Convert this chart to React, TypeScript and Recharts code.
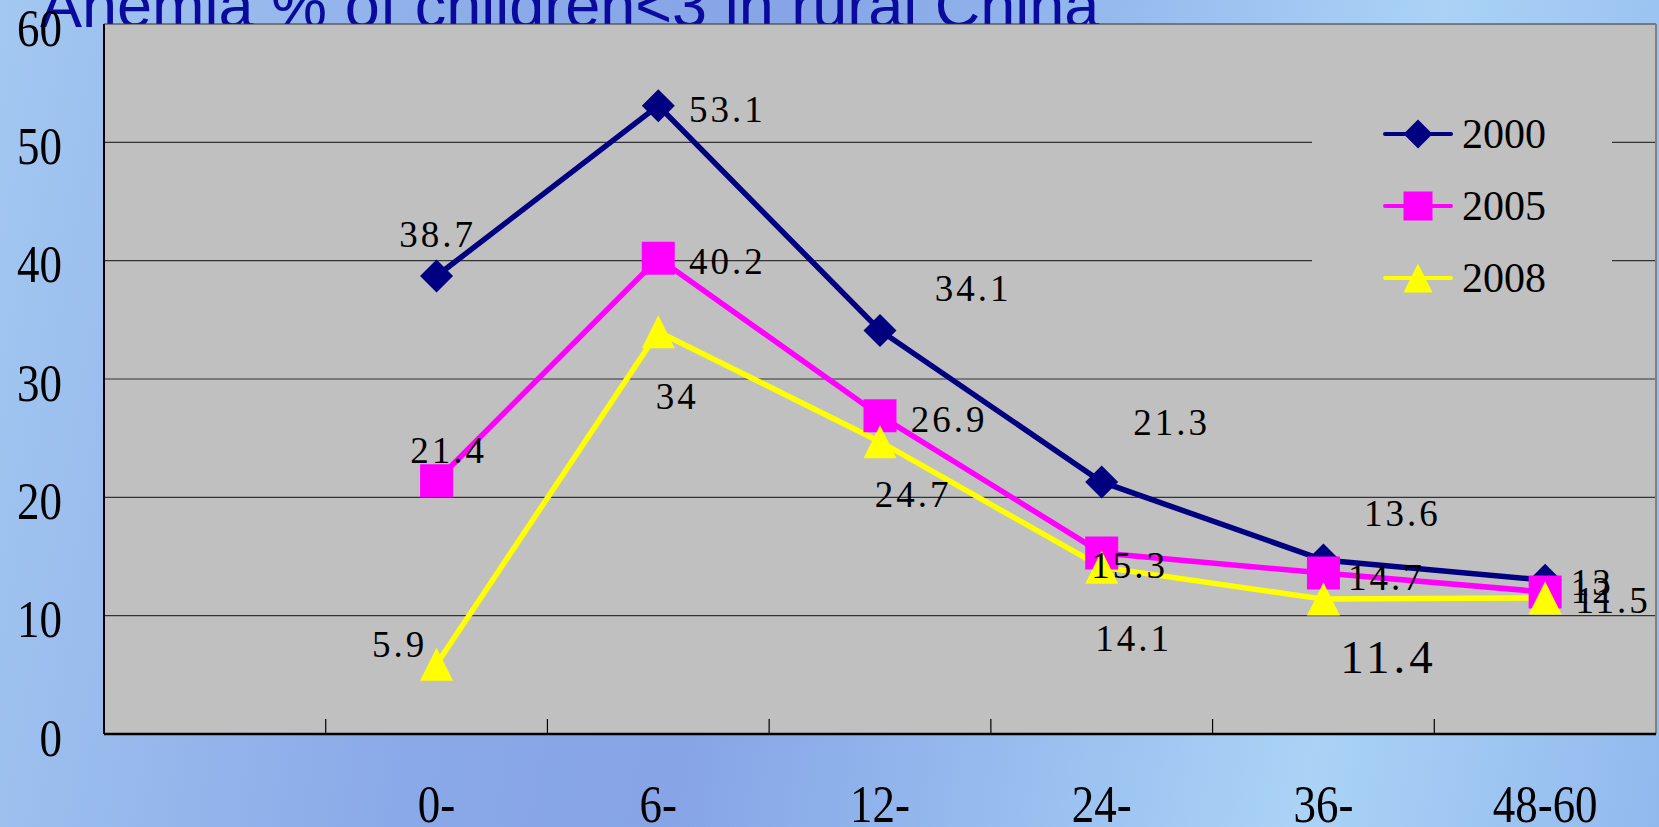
import React from 'react';
import { LineChart, Line, XAxis, YAxis, CartesianGrid, Legend, LabelList, ReferenceLine } from 'recharts';

const ageGroups = ['0-', '6-', '12-', '24-', '36-', '48-60'];
const anemia2000 = [38.7, 53.1, 34.1, 21.3, 14.7, 13];
const anemia2005 = [21.4, 40.2, 26.9, 15.3, 13.6, 12];
const anemia2008 = [5.9, 34, 24.7, 14.1, 11.4, 11.5];
const yTicks = [0, 10, 20, 30, 40, 50, 60];

// label offsets from each point, [dx, dy] in px (the labels were dragged around by hand in the original)
const nudge2000 = [[1, -42], [69, 4], [93, -42], [70, -59], [63, 17], [47, 2]];
const nudge2005 = [[12, -30], [69, 3], [69, 4], [28, 13], [79, -60], [47, -2]];
const nudge2008 = [[-37, -20], [19, 65], [33, 53], [32, 71], [65, 58], [68, 3]];

const W = 1659;
const H = 827;
const serif = '"Liberation Serif", "DejaVu Serif", serif';

// first slot on the axis is empty in the original, so groups sit at 1.5 .. 6.5
const rows = ageGroups.map((g, i) => ({
  pos: i + 1.5,
  group: g,
  y2000: anemia2000[i],
  y2005: anemia2005[i],
  y2008: anemia2008[i],
}));

const series = [
  { key: 'y2000', name: '2000', color: '#000080', shape: 'diamond', nudge: nudge2000 },
  { key: 'y2005', name: '2005', color: '#ff00ff', shape: 'square', nudge: nudge2005 },
  { key: 'y2008', name: '2008', color: '#ffff00', shape: 'triangle', nudge: nudge2008 },
];

function markerPath(shape: string, cx: number, cy: number, s: number) {
  const h = s / 2;
  if (shape === 'diamond') return `M${cx},${cy - h}L${cx + h},${cy}L${cx},${cy + h}L${cx - h},${cy}Z`;
  if (shape === 'square') return `M${cx - h},${cy - h}H${cx + h}V${cy + h}H${cx - h}Z`;
  return `M${cx},${cy - h}L${cx + h},${cy + h}L${cx - h},${cy + h}Z`;
}

const makeDot = (shape: string, color: string) => (props: any) => {
  const { cx, cy, index } = props;
  if (cx == null || cy == null) return <g key={`d-${index}`} />;
  return <path key={`d-${index}`} d={markerPath(shape, cx, cy, 33)} fill={color} stroke="none" />;
};

const makeLabel = (nudge: number[][], bigIndex: number) => (props: any) => {
  const { value, index } = props;
  const vb = props.viewBox || {};
  const x = vb.x ?? props.x;
  const y = vb.y ?? props.y;
  if (x == null || y == null || value == null) return null;
  const [dx, dy] = nudge[index] || [0, 0];
  const big = index === bigIndex;
  return (
    <text
      key={`l-${index}`}
      x={x + dx}
      y={y + dy}
      textAnchor="middle"
      dominantBaseline="central"
      fontFamily={serif}
      fontSize={big ? 47 : 37}
      letterSpacing={big ? 4 : 3}
      fill="#000"
    >
      {String(value)}
    </text>
  );
};

// axis text in the original is a tall, slightly stretched Song face
const XTick = (props: any) => {
  const { x, y, payload } = props;
  const i = Math.round(payload.value - 1.5);
  const by = y + 88;
  return (
    <text
      x={x}
      y={by}
      transform={`translate(0 ${by}) scale(1 1.15) translate(0 ${-by})`}
      textAnchor="middle"
      fontFamily={serif}
      fontSize={45}
      fill="#000"
    >
      {ageGroups[i]}
    </text>
  );
};

const YTick = (props: any) => {
  const { x, y, payload } = props;
  const cy = y + 4;
  return (
    <text
      x={x}
      y={cy}
      transform={`translate(0 ${cy}) scale(1 1.15) translate(0 ${-cy})`}
      textAnchor="end"
      dominantBaseline="central"
      fontFamily={serif}
      fontSize={45}
      fill="#000"
    >
      {payload.value}
    </text>
  );
};

// inward tick marks sit on the boundaries between groups, not under the points
const BoundaryTick = (props: any) => {
  const { x1, x2, y1, y2 } = props;
  if (x1 == null) return null;
  const bottom = Math.max(y1, y2);
  return <line x1={x1} x2={x2} y1={bottom} y2={bottom - 15} stroke="#000" strokeWidth={1.2} />;
};

const LegendBox = (props: any) => {
  const items = props.payload || [];
  return (
    <div style={{ width: '100%', height: '100%' }}>
      {items.map((it: any) => {
        const s = series.find((q) => q.key === it.dataKey) || series[0];
        return (
          <div key={s.key} style={{ height: 72, display: 'flex', alignItems: 'center', paddingLeft: 71 }}>
            <svg width={70} height={34}>
              <line x1={2} y1={17} x2={68} y2={17} stroke={s.color} strokeWidth={4} strokeLinecap="round" />
              <path d={markerPath(s.shape, 35, 17, 29)} fill={s.color} />
            </svg>
            <span style={{ marginLeft: 9, fontFamily: serif, fontSize: 42, color: '#000', lineHeight: 1 }}>{s.name}</span>
          </div>
        );
      })}
    </div>
  );
};

export default function App() {
  return (
    <div
      style={{
        position: 'absolute',
        left: 0,
        top: 0,
        width: W,
        height: H,
        overflow: 'hidden',
        background:
          'linear-gradient(100deg, #a3c8f1 0%, #8aa9e8 30%, #86a4e6 45%, #95bbee 62%, #aad3f6 80%, #92b9ee 100%)',
      }}
    >
      <svg width={W} height={H} style={{ position: 'absolute', left: 0, top: 0 }}>
        <text x={40} y={27} fontFamily='"Liberation Sans", Arial, sans-serif' fontSize={63} fill="#0a0a9e">
          Anemia % of children&lt;3 in rural China
        </text>
      </svg>
      <div style={{ position: 'absolute', left: 0, top: 0 }}>
        <LineChart width={W} height={H} data={rows} margin={{ top: 24, right: 3, bottom: 0, left: 0 }}>
          <CartesianGrid fill="#c0c0c0" vertical={false} stroke="#333" strokeWidth={1.2} />
          <XAxis
            xAxisId="main"
            dataKey="pos"
            type="number"
            domain={[0, 7]}
            ticks={rows.map((r) => r.pos)}
            height={93}
            tickLine={false}
            tickSize={0}
            tickMargin={0}
            axisLine={{ stroke: '#000', strokeWidth: 2.5 }}
            tick={<XTick />}
            interval={0}
          />
          <YAxis
            domain={[0, 60]}
            ticks={yTicks}
            width={104}
            tickLine={false}
            tickSize={0}
            tickMargin={42}
            axisLine={{ stroke: '#000', strokeWidth: 2 }}
            tick={<YTick />}
            interval={0}
          />
          {ageGroups.map((_, i) => (
            <ReferenceLine key={`b-${i}`} xAxisId="main" x={i + 1} shape={<BoundaryTick />} />
          ))}
          <ReferenceLine xAxisId="main" x={7} stroke="#808080" strokeWidth={2} />
          <Legend
            layout="horizontal"
            verticalAlign="middle"
            align="center"
            content={<LegendBox />}
            wrapperStyle={{ left: 1312, top: 98, width: 300, height: 216, background: '#c0c0c0' }}
          />
          {series.map((s) => (
            <Line
              key={s.key}
              xAxisId="main"
              dataKey={s.key}
              name={s.name}
              stroke={s.color}
              strokeWidth={5.5}
              dot={makeDot(s.shape, s.color)}
              activeDot={false}
              isAnimationActive={false}
            >
              <LabelList dataKey={s.key} content={makeLabel(s.nudge, s.key === 'y2008' ? 4 : -1)} />
            </Line>
          ))}
        </LineChart>
      </div>
    </div>
  );
}
